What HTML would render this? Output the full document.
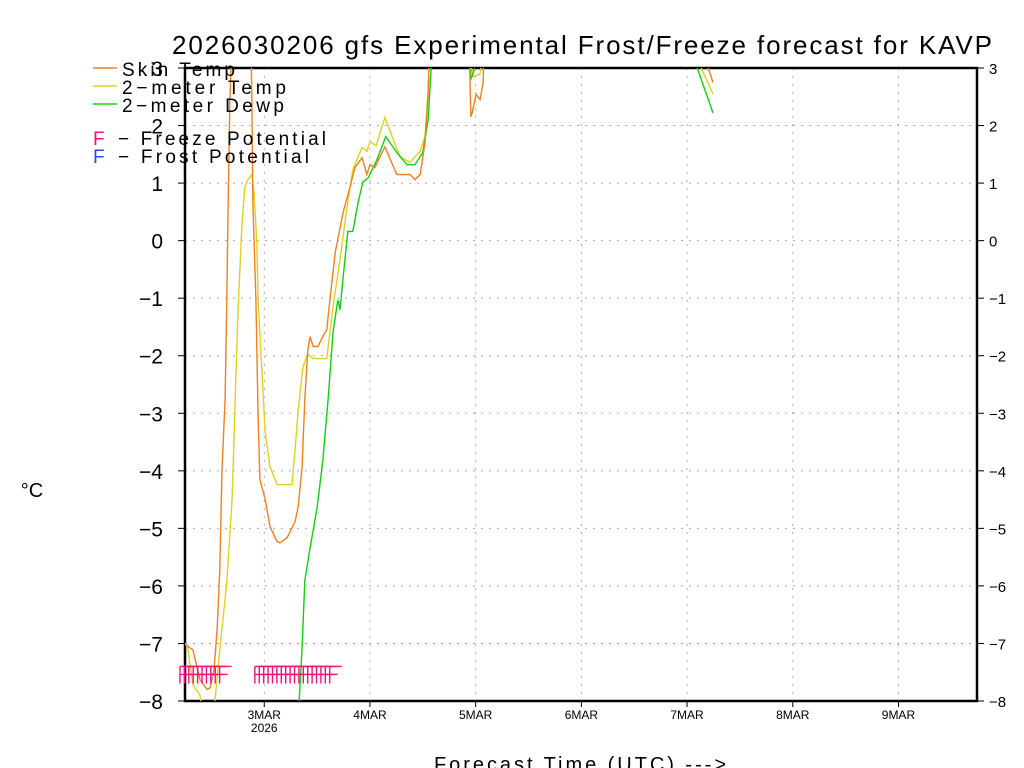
<!DOCTYPE html>
<html><head><meta charset="utf-8"><style>
html,body{margin:0;padding:0;background:#fff;}
svg{display:block;font-family:"Liberation Sans",sans-serif;}
</style></head><body>
<svg id="chart" width="1024" height="768" viewBox="0 0 1024 768">
<defs><clipPath id="plotclip"><rect x="185" y="68" width="792" height="633"/></clipPath></defs>
<text x="172" y="54" font-size="26" textLength="820" lengthAdjust="spacing">2026030206 gfs Experimental Frost/Freeze forecast for KAVP</text>
<g id="grid"></g>
<g id="axes"></g>
<g id="series" clip-path="url(#plotclip)"></g>
<g id="freeze"></g>
<text x="32" y="497" font-size="20" text-anchor="middle">°C</text>
<text x="434" y="771" font-size="20" textLength="292" lengthAdjust="spacing">Forecast Time (UTC) ---&gt;</text>
<g>
<line x1="93" y1="68" x2="117" y2="68" stroke="#f08020" stroke-width="1.5"/>
<text x="122" y="76" font-size="19" textLength="113" lengthAdjust="spacing">Skin Temp</text>
<line x1="93" y1="86" x2="117" y2="86" stroke="#e0d020" stroke-width="1.5"/>
<text x="122" y="94" font-size="19" textLength="164" lengthAdjust="spacing">2−meter Temp</text>
<line x1="93" y1="104" x2="117" y2="104" stroke="#10d010" stroke-width="1.5"/>
<text x="122" y="112" font-size="19" textLength="162" lengthAdjust="spacing">2−meter Dewp</text>
<text x="93" y="145" font-size="19" fill="#f01080">F</text>
<text x="118" y="145" font-size="19" textLength="208" lengthAdjust="spacing">−  Freeze Potential</text>
<text x="93" y="163" font-size="19" fill="#2050f0">F</text>
<text x="118" y="163" font-size="19" textLength="191" lengthAdjust="spacing">−  Frost Potential</text>
</g>
</svg>
<script>
const yTicks=[3,2,1,0,-1,-2,-3,-4,-5,-6,-7,-8];
const dayLabels=["3MAR","4MAR","5MAR","6MAR","7MAR","8MAR","9MAR"];
const skinT=[0,1.8,3.4,5.0,5.7,6.6,7.3,7.9,8.4,9.1,9.5,9.8,10.2,10.7,14.8,15.2,15.4,16.1,16.6,17.0,18.2,19.3,20.9,21.6,23.2,25.0,25.7,26.6,27.2,27.9,28.4,29.1,30.2,31.1,32.2,32.5,32.9,34.1,35.9,37.5,38.6,40.2,41.3,42.0,43.1,45.4,48.1,51.1,52.2,53.4,54.5,55.2,55.6,64.4,64.6,64.9,65.2,66.1,67.0,67.7,67.9,118.5,118.8,119.9];
const skinV=[-7.02,-7.11,-7.63,-7.80,-7.77,-7.45,-6.76,-5.72,-3.98,-2.76,-1.03,0.71,2.45,3.5,4,2.45,0.71,-1.03,-3.06,-4.15,-4.5,-4.97,-5.23,-5.25,-5.16,-4.88,-4.62,-3.93,-2.76,-1.89,-1.67,-1.84,-1.84,-1.69,-1.55,-1.32,-1.03,-0.21,0.49,0.94,1.27,1.44,1.15,1.32,1.27,1.63,1.15,1.15,1.06,1.15,1.70,2.57,3.5,4,3.2,2.15,2.22,2.54,2.45,2.75,3.5,4,3.0,2.75];
const tempT=[0,0.5,1.8,3.4,4.1,6.4,6.8,7.9,9.5,10.7,11.4,12.0,12.9,13.6,14.3,15.2,15.7,16.3,16.6,18.2,19.3,20.9,24.3,25.0,25.7,26.8,27.9,29.1,32.2,32.9,33.6,35.2,36.8,38.1,40.2,41.3,42.0,43.4,45.4,48.8,51.1,53.4,54.5,55.2,55.6,64.5,64.7,65.5,67.0,68.0,117.0,117.2,119.9];
const tempV=[-7.0,-7.02,-7.72,-7.9,-8.3,-8.3,-8.0,-7.11,-5.94,-4.50,-2.76,-1.32,0.24,0.94,1.06,1.15,0.83,-0.03,-1.03,-3.34,-3.93,-4.24,-4.24,-3.63,-2.94,-2.19,-1.98,-2.05,-2.05,-1.60,-1.15,-0.33,0.59,1.23,1.62,1.55,1.72,1.65,2.14,1.46,1.36,1.55,1.81,2.57,3.5,4,3.1,2.85,2.9,3.5,4,3.0,2.55];
const dewT=[25.7,26.6,27.2,28.4,30.0,31.3,32.5,33.6,34.7,35.2,36.3,37.0,38.1,39.3,40.4,41.6,43.6,45.6,48.1,50.4,52.2,54.0,55.2,56.3,64.7,64.9,65.4,66.4,116.0,116.3,119.9];
const dewV=[-8.3,-7.07,-5.91,-5.34,-4.64,-3.82,-2.76,-1.60,-1.03,-1.20,-0.33,0.16,0.16,0.66,1.02,1.09,1.41,1.81,1.53,1.32,1.32,1.53,2.10,3.5,4,2.8,2.9,3.2,4,3.0,2.22];
const freezeHours=[0,1,2,3,4,5,6,7,8,9,17,18,19,20,21,22,23,24,25,26,27,28,29,30,31,32,33,34];
const freezeLevel=-7.4;

const NS="http://www.w3.org/2000/svg";
const X0=185,X1=977,Y0=68,Y1=701,VMAX=3,VMIN=-8,PXH=4.404,DAY0=18;
function xs(h){return X0+h*PXH;}
function ys(v){return Y0+(VMAX-v)*(Y1-Y0)/(VMAX-VMIN);}
function mk(tag,attrs,parent){const e=document.createElementNS(NS,tag);for(const k in attrs)e.setAttribute(k,attrs[k]);parent.appendChild(e);return e;}
const grid=document.getElementById('grid'),axes=document.getElementById('axes'),series=document.getElementById('series'),fz=document.getElementById('freeze');

yTicks.forEach(v=>{
  const y=ys(v);
  if(v<VMAX&&v>VMIN){const g=mk('line',{x1:X0,x2:X1,y1:y,y2:y,stroke:'#aaa','stroke-dasharray':'2,6'},grid);
  
  }
  const tl=mk('line',{x1:X0-7,x2:X0,y1:y,y2:y,stroke:'#000'},axes);
  
  
  const tr=mk('line',{x1:X1,x2:X1+7,y1:y,y2:y,stroke:'#000'},axes);
  
  
  const lab=(v<0?'−':'')+Math.abs(v);
  const t=mk('text',{x:X0-22,y:y+8,'font-size':21,'text-anchor':'end'},axes);t.textContent=lab;
  
  
  const t2=mk('text',{x:X1+12,y:y+6,'font-size':15},axes);t2.textContent=lab;
  
  
});
dayLabels.forEach((d,i)=>{
  const x=xs(DAY0+24*i);
  const g=mk('line',{x1:x,x2:x,y1:Y0,y2:Y1,stroke:'#aaa','stroke-dasharray':'2,6'},grid);
  
  
  const tk=mk('line',{x1:x,x2:x,y1:Y1,y2:Y1+6,stroke:'#000'},axes);
  
  
  const t=mk('text',{x:x,y:Y1+18,'font-size':12,'text-anchor':'middle'},axes);t.textContent=d;
  
  
  if(i===0){const t2=mk('text',{x:x,y:Y1+31,'font-size':12,'text-anchor':'middle'},axes);t2.textContent='2026';
  
  }
});
const frame=mk('rect',{x:X0,y:Y0,width:X1-X0,height:Y1-Y0,fill:'none',stroke:'#000','stroke-width':2.5},axes);



function drawSeries(T,V,color,name){
  const d=T.map((t,i)=>(i?'L':'M')+xs(t).toFixed(1)+','+ys(V[i]).toFixed(1)).join(' ');
  const p=mk('path',{d:d,fill:'none',stroke:color,'stroke-width':1.4},series);
  
  
}
drawSeries(tempT,tempV,'#e0d020','line-2m-temp');
drawSeries(dewT,dewV,'#10d010','line-2m-dewp');
drawSeries(skinT,skinV,'#f08020','line-skin-temp');

freezeHours.forEach(h=>{
  const x=xs(h)-5,y=ys(freezeLevel);
  const g=mk('path',{d:`M${x},${y} L${x},${y+17} M${x},${y} L${x+12},${y} M${x},${y+8} L${x+8},${y+8}`,stroke:'#f01080','stroke-width':1.4,fill:'none'},fz);
  
  
});
</script>
</body></html>
